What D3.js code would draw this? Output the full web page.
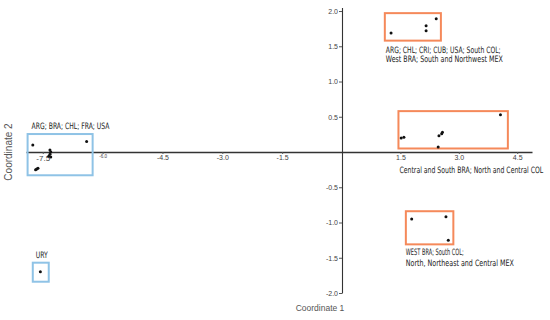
<!DOCTYPE html>
<html>
<head>
<meta charset="utf-8">
<script src="https://cdn.jsdelivr.net/npm/d3@7"></script>
<style>
  body { margin: 0; background: #fff; }
  svg { display: block; }
</style>
</head>
<body>
<svg id="chart" width="550" height="320"></svg>
<script>
// MDS coordinates, one entry per point
const coord1 = [-7.75, -6.40, -7.32, -7.30, -7.32, -7.35, -7.30, -7.68, -7.62, -7.65,
                -7.56,
                1.26, 2.16, 2.16, 2.42,
                1.52, 1.59, 2.49, 2.56, 2.58, 2.47, 4.07,
                1.79, 2.67, 2.73];
const coord2 = [0.10, 0.15, 0.03, 0.00, -0.03, -0.06, -0.07, -0.25, -0.23, -0.24,
                -1.70,
                1.69, 1.79, 1.72, 1.89,
                0.20, 0.21, 0.23, 0.26, 0.28, 0.07, 0.53,
                -0.95, -0.92, -1.25];

// annotation boxes (data units) and their labels
const boxX0 = [-7.88, -7.75, 1.10, 1.45, 1.64];
const boxX1 = [-6.25, -7.35, 2.54, 4.26, 2.86];
const boxY0 = [-0.33, -1.84, 1.58, 0.05, -1.31];
const boxY1 = [0.255, -1.57, 1.97, 0.58, -0.84];
const boxKind = ['blue', 'blue', 'orange', 'orange', 'orange'];
const boxLabels = [
  ['ARG; BRA; CHL; FRA; USA'],
  ['URY'],
  ['ARG; CHL; CRI; CUB; USA; South COL;', 'West BRA; South and Northwest MEX'],
  ['Central and South BRA; North and Central COL'],
  ['WEST BRA;  South COL;', 'North, Northeast and Central MEX']
];

const xTicks = [-7.5, -6.0, -4.5, -3.0, -1.5, 1.5, 3.0, 4.5];
const yTicks = [2.0, 1.5, 1.0, 0.5, -0.5, -1.0, -1.5, -2.0];

const svg = d3.select('#chart');
const kindColor = { blue: '#8fc3e6', orange: '#f5895a' };
const labelFont = '"Liberation Sans Narrow", "DejaVu Sans Condensed", sans-serif';
const fmt = d => d.toFixed(1);

// scales (slightly different spacing on each side of zero, as in the figure)
const x = d3.scaleLinear().domain([-7.92, 0, 4.88]).range([26, 342, 532]);
const y = d3.scaleLinear().domain([-2.0, 2.05]).range([293, 7.5]);

// x axis through y = 0
const xAxis = svg.append('g')
  .attr('transform', `translate(0,${y(0)})`)
  .call(d3.axisBottom(x).tickValues(xTicks).tickSize(2).tickSizeOuter(0)
    .tickPadding(1).tickFormat(fmt));
xAxis.select('.domain').attr('stroke', '#333').attr('stroke-width', 1.3);
xAxis.selectAll('.tick line').attr('stroke', '#555');
xAxis.selectAll('.tick text')
  .attr('font-family', '"Liberation Sans", Arial, sans-serif')
  .attr('font-size', d => d === -6 ? 4.5 : d === -7.5 ? 8 : 7)
  .attr('fill', '#444');

// y axis through x = 0
const yAxis = svg.append('g')
  .attr('transform', `translate(${x(0)},0)`)
  .call(d3.axisLeft(y).tickValues(yTicks).tickSize(3).tickSizeOuter(0)
    .tickPadding(1).tickFormat(fmt));
yAxis.select('.domain').attr('stroke', '#333').attr('stroke-width', 1.1);
yAxis.selectAll('.tick line').attr('stroke', '#555');
yAxis.selectAll('.tick text')
  .attr('font-family', '"Liberation Sans", Arial, sans-serif')
  .attr('font-size', 7)
  .attr('fill', '#444');

// boxes
const boxes = boxLabels.map((lines, i) => ({
  lines, kind: boxKind[i],
  x0: x(boxX0[i]), x1: x(boxX1[i]), top: y(boxY1[i]), bottom: y(boxY0[i])
}));

svg.append('g').selectAll('rect')
  .data(boxes)
  .join('rect')
  .attr('x', d => d.x0)
  .attr('y', d => d.top)
  .attr('width', d => d.x1 - d.x0)
  .attr('height', d => d.bottom - d.top)
  .attr('fill', 'none')
  .attr('stroke', d => kindColor[d.kind])
  .attr('stroke-width', 2);

// label placement relative to each box: dx, dy from anchor edge, edge, line gap, line widths
const labelLayout = [
  { dx: 4, dy: -5, edge: 'top', gap: 9, widths: [78] },
  { dx: 3, dy: -5, edge: 'top', gap: 9, widths: [12] },
  { dx: 1, dy: 12, edge: 'bottom', gap: 9, widths: [115, 117] },
  { dx: 1, dy: 25, edge: 'bottom', gap: 9, widths: [144] },
  { dx: 0, dy: 11, edge: 'bottom', gap: 11, widths: [58, 108] }
];

// condensed labels: squeeze horizontally to the widths measured on the figure
boxes.forEach((b, i) => {
  const L = labelLayout[i];
  const base = (L.edge === 'top' ? b.top : b.bottom) + L.dy;
  b.lines.forEach((line, j) => {
    const g = svg.append('g');
    const t = g.append('text')
      .attr('font-family', labelFont)
      .attr('font-size', 8.8)
      .attr('fill', '#222')
      .text(line);
    const k = L.widths[j] / t.node().getComputedTextLength();
    g.attr('transform', `translate(${b.x0 + L.dx},${base + j * L.gap}) scale(${k},1)`);
  });
});

// points
svg.append('g').selectAll('circle')
  .data(coord1.map((c, i) => [c, coord2[i]]))
  .join('circle')
  .attr('cx', d => x(d[0]))
  .attr('cy', d => y(d[1]))
  .attr('r', 1.5)
  .attr('fill', '#111');

// axis titles
svg.append('text')
  .attr('x', 320)
  .attr('y', 311)
  .attr('text-anchor', 'middle')
  .attr('font-family', '"Liberation Sans", Arial, sans-serif')
  .attr('font-size', 8.5)
  .attr('fill', '#555')
  .text('Coordinate 1');

svg.append('text')
  .attr('transform', 'translate(12,152) rotate(-90)')
  .attr('text-anchor', 'middle')
  .attr('font-family', '"Liberation Sans", Arial, sans-serif')
  .attr('font-size', 10)
  .attr('fill', '#555')
  .text('Coordinate 2');
</script>
</body>
</html>
